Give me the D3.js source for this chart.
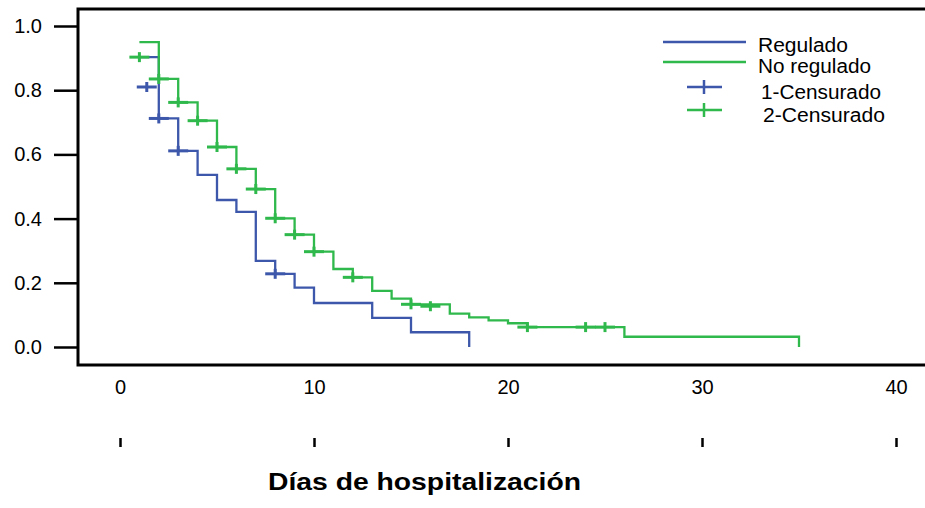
<!DOCTYPE html>
<html>
<head>
<meta charset="utf-8">
<script src="https://d3js.org/d3.v7.min.js"></script>
<style>
    body { margin: 0; background: #fff; }
    text { font-family: "Liberation Sans", Arial, sans-serif; fill: #000; }
</style>
</head>
<body>
<div class="chart1"></div>
<script>
// Kaplan-Meier curves, hospital days
var regTimes = [1, 2, 3, 4, 5, 6, 7, 8, 9, 10, 13, 15, 18];
var regSurv = [0.903, 0.712, 0.611, 0.536, 0.458, 0.421, 0.268, 0.228, 0.185, 0.137, 0.091, 0.046, 0.0];
var regCensT = [1.38, 2, 3, 8];
var regCensS = [0.81, 0.712, 0.611, 0.228];

var noRegTimes = [1, 2, 3, 4, 5, 6, 7, 8, 9, 10, 11, 12, 13, 14, 15, 17, 18, 19, 20, 21, 26, 35];
var noRegSurv = [0.95, 0.835, 0.762, 0.705, 0.623, 0.555, 0.492, 0.401, 0.350, 0.297, 0.243, 0.217, 0.175, 0.151, 0.133, 0.104, 0.092, 0.083, 0.074, 0.062, 0.032, 0.0];
var noRegCensT = [1, 2, 3, 4, 5, 6, 7, 8, 9, 10, 12, 15, 16, 21, 24, 25];
var noRegCensS = [0.903, 0.835, 0.762, 0.705, 0.623, 0.555, 0.492, 0.401, 0.350, 0.297, 0.217, 0.133, 0.127, 0.062, 0.062, 0.062];

var xTicks = [0, 10, 20, 30, 40];
var yTicks = [0, 0.2, 0.4, 0.6, 0.8, 1.0];
var legendLabels = ["Regulado", "No regulado", "1-Censurado", "2-Censurado"];

var blue = "#3d58aa";
var green = "#2fb84b";

var width = 925, height = 508;

var x = d3.scaleLinear().domain([0, 40]).range([120, 896]);
var y = d3.scaleLinear().domain([0, 1]).range([347, 26]);

var svg = d3.select(".chart1").append("svg")
    .attr("width", width)
    .attr("height", height);

// frame (right side runs off the picture)
svg.append("path")
    .attr("d", "M940,9H78V365H940")
    .attr("fill", "none")
    .attr("stroke", "#000")
    .attr("stroke-width", 3);

// y axis
var yAxis = svg.append("g")
    .attr("transform", "translate(78,0)")
    .call(d3.axisLeft(y)
        .tickValues(yTicks)
        .tickFormat(d3.format(".1f"))
        .tickSize(24)
        .tickPadding(12));
yAxis.select(".domain").remove();
yAxis.selectAll("line").attr("stroke-width", 2.5);
yAxis.selectAll("text").style("font-size", "20px").style("font-family", "Liberation Sans, Arial, sans-serif");

// x labels
var xLab = svg.append("g")
    .attr("transform", "translate(0,380)")
    .call(d3.axisBottom(x).tickValues(xTicks).tickSize(0).tickPadding(0));
xLab.select(".domain").remove();
xLab.selectAll("text").style("font-size", "20px").style("font-family", "Liberation Sans, Arial, sans-serif");

// x tick marks, lower down
var xMarks = svg.append("g")
    .attr("transform", "translate(0,438)")
    .call(d3.axisBottom(x).tickValues(xTicks).tickSize(9).tickFormat(""));
xMarks.select(".domain").remove();
xMarks.selectAll("line").attr("stroke-width", 2.5);

svg.append("text")
    .attr("x", 268)
    .attr("y", 490)
    .attr("textLength", 313)
    .attr("lengthAdjust", "spacingAndGlyphs")
    .style("font-size", "23px")
    .style("font-weight", "bold")
    .text("Días de hospitalización");

var line = d3.line()
    .x(function (d) { return x(d[0]); })
    .y(function (d) { return y(d[1]); })
    .curve(d3.curveStepAfter);

var regData = d3.zip(regTimes, regSurv);
var noRegData = d3.zip(noRegTimes, noRegSurv);

svg.append("path")
    .datum(regData)
    .attr("d", line)
    .attr("fill", "none")
    .attr("stroke", blue)
    .attr("stroke-width", 2.3);

svg.append("path")
    .datum(noRegData)
    .attr("d", line)
    .attr("fill", "none")
    .attr("stroke", green)
    .attr("stroke-width", 2.3);

function crosses(ts, ss, color) {
    var g = svg.append("g")
        .attr("stroke", color)
        .attr("stroke-width", 3);
    var pts = d3.zip(ts, ss);
    g.selectAll(".h").data(pts).enter().append("line")
        .attr("x1", function (d) { return x(d[0]) - 10; })
        .attr("x2", function (d) { return x(d[0]) + 10; })
        .attr("y1", function (d) { return y(d[1]); })
        .attr("y2", function (d) { return y(d[1]); });
    g.selectAll(".v").data(pts).enter().append("line")
        .attr("x1", function (d) { return x(d[0]); })
        .attr("x2", function (d) { return x(d[0]); })
        .attr("y1", function (d) { return y(d[1]) - 5; })
        .attr("y2", function (d) { return y(d[1]) + 5; });
}
crosses(regCensT, regCensS, blue);
crosses(noRegCensT, noRegCensS, green);

// legend
var leg = svg.append("g");
leg.append("line").attr("x1", 663).attr("x2", 746).attr("y1", 42).attr("y2", 42)
    .attr("stroke", blue).attr("stroke-width", 2.3);
leg.append("line").attr("x1", 663).attr("x2", 746).attr("y1", 62).attr("y2", 62)
    .attr("stroke", green).attr("stroke-width", 2.3);
[[87, blue], [110, green]].forEach(function (c) {
    leg.append("line").attr("x1", 687).attr("x2", 722).attr("y1", c[0]).attr("y2", c[0])
        .attr("stroke", c[1]).attr("stroke-width", 2.5);
    leg.append("line").attr("x1", 704).attr("x2", 704).attr("y1", c[0] - 7).attr("y2", c[0] + 7)
        .attr("stroke", c[1]).attr("stroke-width", 2.5);
});
var legX = [758, 758, 761, 763];
var legY = [52, 73, 99, 122];
var legW = [90, 113, 120, 122];
legendLabels.forEach(function (t, i) {
    leg.append("text")
        .attr("x", legX[i])
        .attr("y", legY[i])
        .attr("textLength", legW[i])
        .attr("lengthAdjust", "spacingAndGlyphs")
        .style("font-size", "20px")
        .text(t);
});
</script>
</body>
</html>
